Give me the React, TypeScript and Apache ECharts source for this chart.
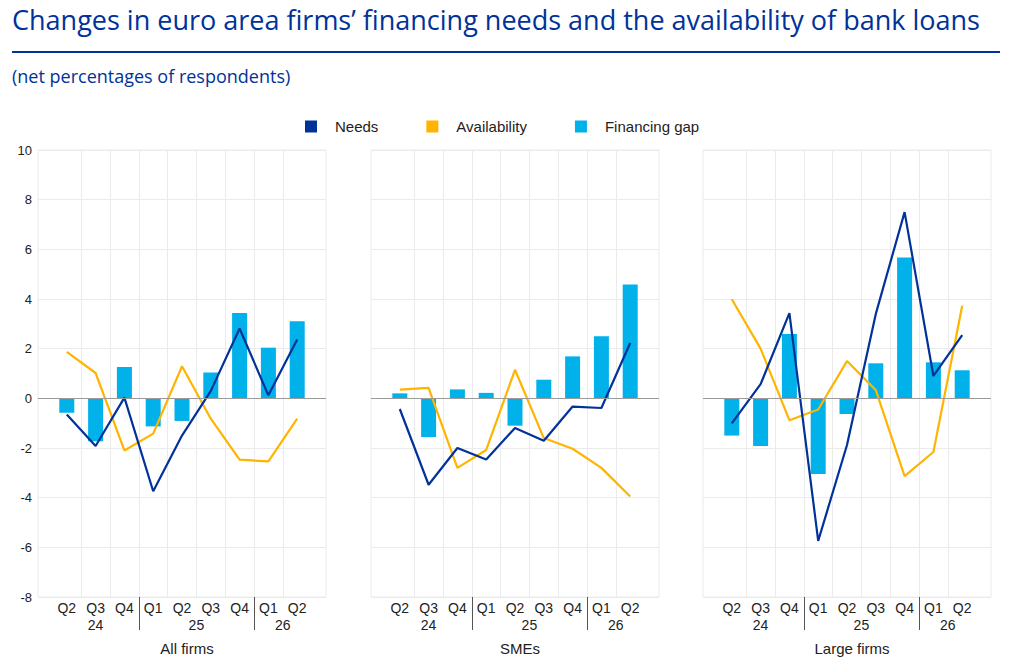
import React, { useEffect, useRef } from 'react';
import * as echarts from 'echarts';

const quarters = ['Q2', 'Q3', 'Q4', 'Q1', 'Q2', 'Q3', 'Q4', 'Q1', 'Q2'];
const years = ['24', '25', '26'];
const yearCenters = [1, 4.5, 7.5];
const yearBreaks = [2.5, 6.5];
const panelNames = ['All firms', 'SMEs', 'Large firms'];

const allNeeds = [-0.65, -1.92, 0.03, -3.74, -1.5, 0.3, 2.81, 0.12, 2.37];
const allAvailability = [1.87, 1.02, -2.1, -1.42, 1.29, -0.82, -2.47, -2.54, -0.82];
const allGap = [-0.58, -1.73, 1.26, -1.13, -0.91, 1.04, 3.44, 2.04, 3.1];

const smeNeeds = [-0.43, -3.48, -2.0, -2.46, -1.19, -1.71, -0.33, -0.39, 2.23];
const smeAvailability = [0.35, 0.42, -2.8, -2.08, 1.15, -1.6, -2.03, -2.8, -3.95];
const smeGap = [0.2, -1.56, 0.36, 0.22, -1.1, 0.75, 1.69, 2.5, 4.58];

const largeNeeds = [-1.01, 0.57, 3.43, -5.74, -1.88, 3.4, 7.5, 0.9, 2.55];
const largeAvailability = [3.99, 2.0, -0.88, -0.45, 1.5, 0.33, -3.13, -2.16, 3.73];
const largeGap = [-1.5, -1.92, 2.59, -3.05, -0.63, 1.41, 5.67, 1.45, 1.13];

const yTicks = [-8, -6, -4, -2, 0, 2, 4, 6, 8, 10];

const BLUE = '#003299';
const YELLOW = '#FFB400';
const CYAN = '#00B1EA';
const GRIDC = '#ebebeb';
const FONT = "'Liberation Sans', Arial, sans-serif";

const panels = [
  { needs: allNeeds, avail: allAvailability, gap: allGap },
  { needs: smeNeeds, avail: smeAvailability, gap: smeGap },
  { needs: largeNeeds, avail: largeAvailability, gap: largeGap },
];

const gridLefts = [38, 371, 703];
const GRID_W = 288;
const GRID_TOP = 150;
const GRID_H = 447;

function toPairs(arr: number[]) {
  return arr.map((v, i) => [i, v]);
}

export default function App() {
  const ref = useRef<HTMLDivElement>(null);
  useEffect(() => {
    if (!ref.current) return;
    const chart = echarts.init(ref.current, undefined, { renderer: 'svg' });
    const catPositions = quarters.map((_, i) => i);
    const splitPositions = quarters.slice(0, -1).map((_, i) => i + 0.5);

    const grid: any[] = [];
    const xAxis: any[] = [];
    const yAxis: any[] = [];
    const series: any[] = [];
    const title: any[] = [];

    panels.forEach((p, g) => {
      grid.push({
        left: gridLefts[g],
        top: GRID_TOP,
        width: GRID_W,
        height: GRID_H,
        show: true,
        borderColor: GRIDC,
        borderWidth: 1,
        containLabel: false,
      });
      xAxis.push({
        type: 'value',
        gridIndex: g,
        min: -1,
        max: 9,
        axisLine: { show: false },
        axisTick: { show: false, customValues: splitPositions },
        splitLine: { show: true, lineStyle: { color: GRIDC, width: 1 } },
        axisLabel: {
          customValues: catPositions,
          formatter: (v: number) => quarters[Math.round(v)] ?? '',
          fontFamily: FONT,
          fontSize: 14,
          color: '#222',
          margin: 4,
        },
      });
      xAxis.push({
        type: 'value',
        gridIndex: g,
        min: -1,
        max: 9,
        position: 'bottom',
        axisLine: { show: false },
        axisTick: {
          show: true,
          customValues: yearBreaks,
          length: 33,
          lineStyle: { color: '#555', width: 1 },
        },
        splitLine: { show: false },
        axisLabel: {
          customValues: yearCenters,
          formatter: (v: number) => {
            const idx = yearCenters.indexOf(v);
            return idx >= 0 ? years[idx] : '';
          },
          fontFamily: FONT,
          fontSize: 14,
          color: '#222',
          margin: 21,
        },
      });
      yAxis.push({
        type: 'value',
        gridIndex: g,
        min: yTicks[0],
        max: yTicks[yTicks.length - 1],
        interval: 2,
        axisLine: { show: false },
        axisTick: { show: false },
        splitLine: { show: true, lineStyle: { color: GRIDC, width: 1 } },
        axisLabel: {
          show: g === 0,
          fontFamily: FONT,
          fontSize: 13,
          color: '#222',
          margin: 6,
        },
      });
      series.push({
        name: 'Financing gap',
        type: 'bar',
        xAxisIndex: g * 2,
        yAxisIndex: g,
        data: toPairs(p.gap),
        barWidth: 15,
        itemStyle: { color: CYAN },
        markLine: {
          silent: true,
          symbol: 'none',
          label: { show: false },
          lineStyle: { color: '#9a9a9a', width: 1.2, type: 'solid' },
          data: [{ yAxis: 0 }],
        },
        z: 2,
      });
      series.push({
        name: 'Needs',
        type: 'line',
        xAxisIndex: g * 2,
        yAxisIndex: g,
        data: toPairs(p.needs),
        showSymbol: false,
        symbol: 'none',
        lineStyle: { color: BLUE, width: 2.2 },
        itemStyle: { color: BLUE },
        z: 4,
      });
      series.push({
        name: 'Availability',
        type: 'line',
        xAxisIndex: g * 2,
        yAxisIndex: g,
        data: toPairs(p.avail),
        showSymbol: false,
        symbol: 'none',
        lineStyle: { color: YELLOW, width: 2.2 },
        itemStyle: { color: YELLOW },
        z: 3,
      });
      title.push({
        text: panelNames[g],
        left: gridLefts[g] + GRID_W / 2,
        top: 636,
        textAlign: 'center',
        textStyle: { fontFamily: FONT, fontSize: 15, fontWeight: 'normal', color: '#222' },
      });
    });

    chart.setOption({
      animation: false,
      backgroundColor: '#ffffff',
      title,
      legend: {
        data: ['Needs', 'Availability', 'Financing gap'],
        top: 114,
        left: 300,
        icon: 'rect',
        itemWidth: 12,
        itemHeight: 12,
        itemGap: 48,
        textStyle: {
          fontFamily: FONT,
          fontSize: 15,
          color: '#222',
          padding: [0, 0, 0, 13],
        },
        selectedMode: false,
      },
      grid,
      xAxis,
      yAxis,
      series,
      graphic: [
        {
          type: 'text',
          left: 12,
          top: 6,
          style: {
            text: 'Changes in euro area firms\u2019 financing needs and the availability of bank loans',
            fontFamily: "'Open Sans', 'Noto Sans', sans-serif",
            fontSize: 27,
            fill: BLUE,
          },
        },
        {
          type: 'line',
          shape: { x1: 12, y1: 52, x2: 1000, y2: 52 },
          style: { stroke: BLUE, lineWidth: 2 },
        },
        {
          type: 'text',
          left: 12,
          top: 67,
          style: {
            text: '(net percentages of respondents)',
            fontFamily: "'Open Sans', 'Noto Sans', sans-serif",
            fontSize: 18,
            fill: BLUE,
          },
        },
      ],
    });
    return () => chart.dispose();
  }, []);
  return (
    <div
      ref={ref}
      style={{ position: 'fixed', left: 0, top: 0, width: 1024, height: 663 }}
    />
  );
}
